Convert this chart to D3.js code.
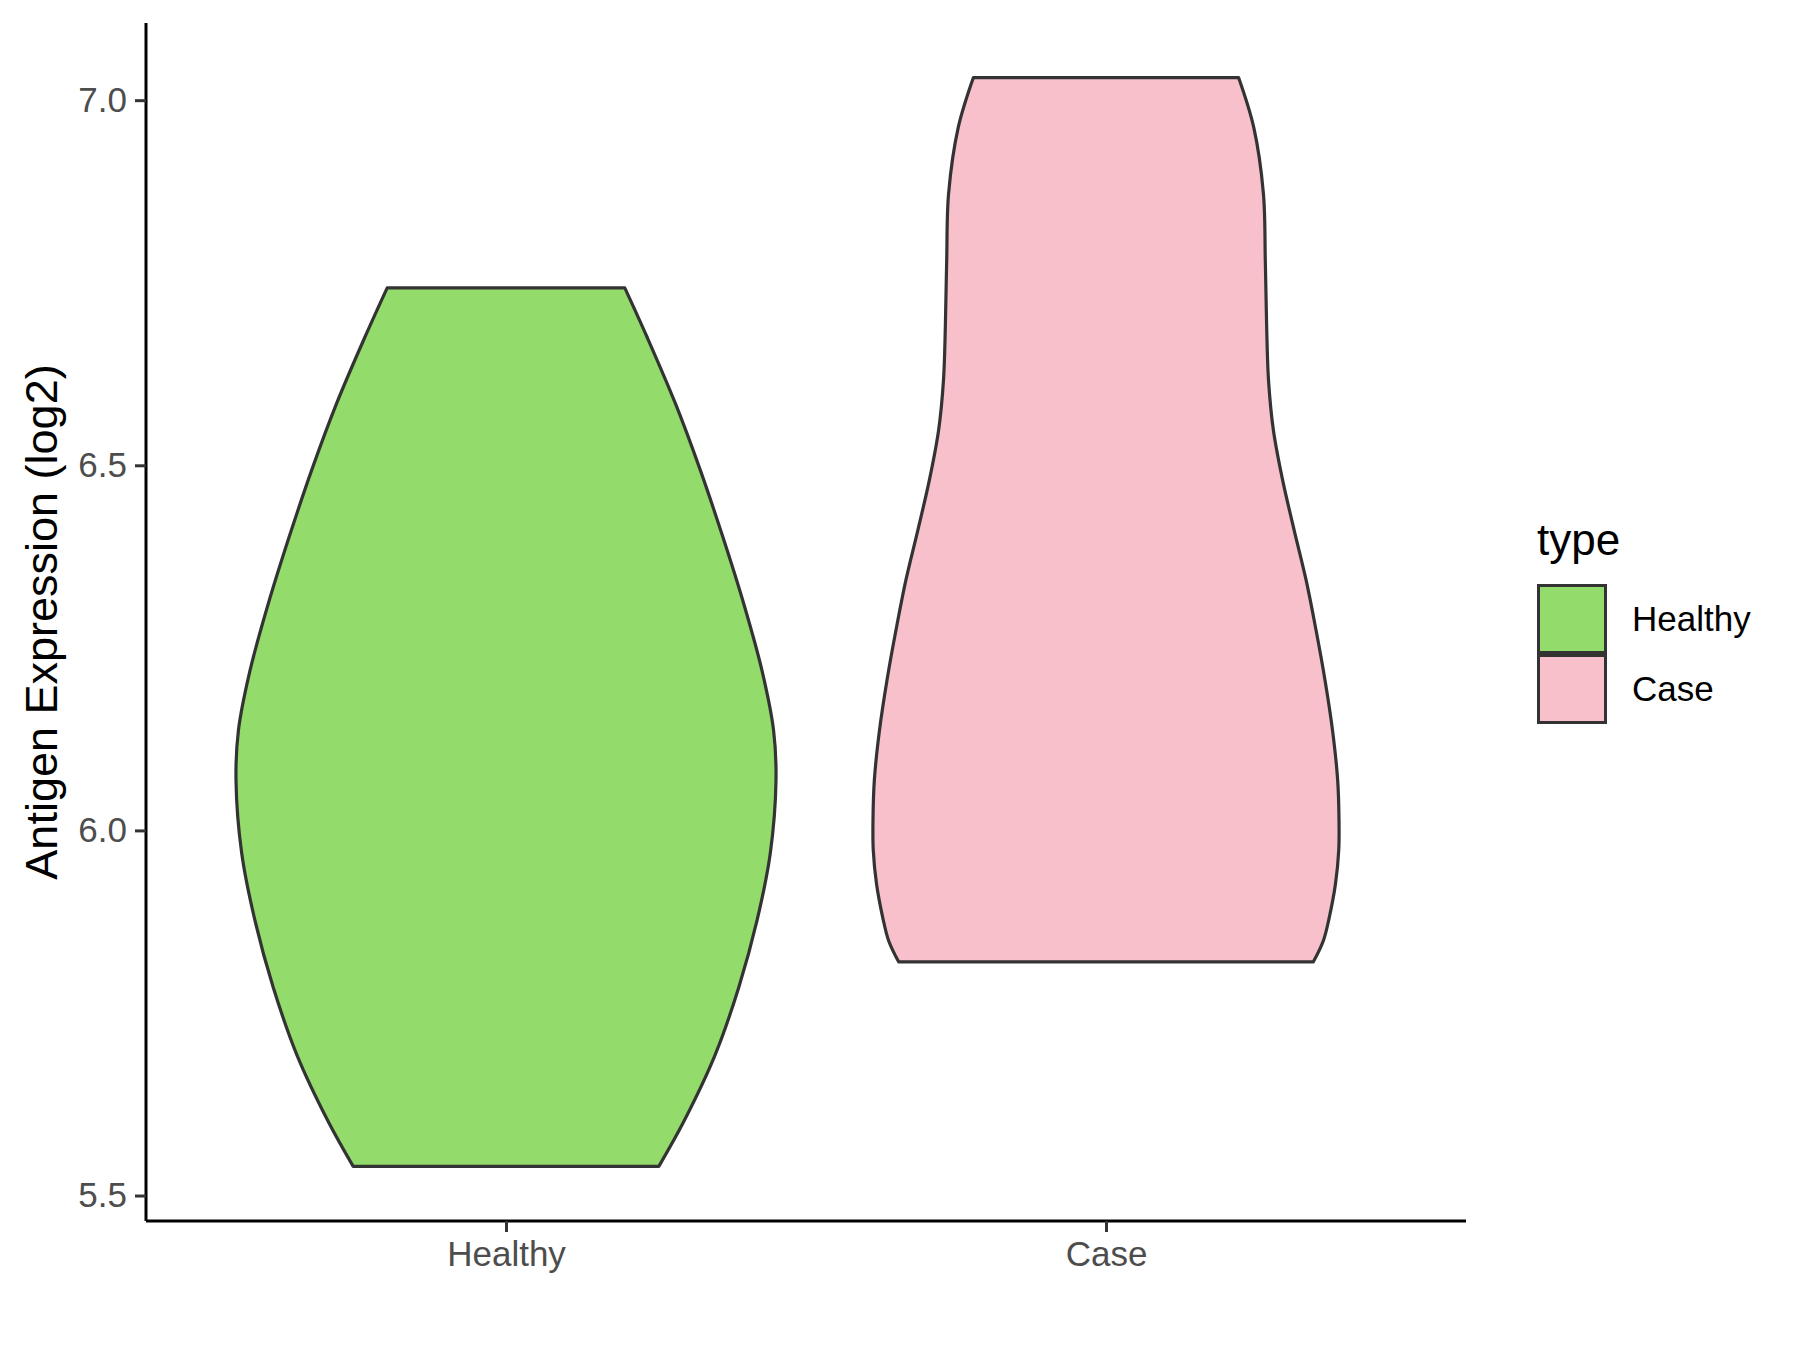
<!DOCTYPE html>
<html>
<head>
<meta charset="utf-8">
<script src="https://cdn.jsdelivr.net/npm/d3@7"></script>
<style>
  body { margin: 0; background: #fff; }
  svg { display: block; font-family: "Liberation Sans", Arial, sans-serif; }
</style>
</head>
<body>
<svg width="1800" height="1350"></svg>
<script>
// categories and colours
var groups = ["Healthy", "Case"];
var fills = ["#93DB6A", "#F8C0CB"];
var yTicks = [5.5, 6.0, 6.5, 7.0];

// violin outlines: value levels and relative density (1 = widest)
var healthyLevels = [6.743, 6.676, 6.585, 6.493, 6.402, 6.311, 6.219, 6.137, 6.069, 5.969, 5.877, 5.785, 5.693, 5.601, 5.540];
var healthyDensity = [0.440, 0.522, 0.627, 0.720, 0.803, 0.880, 0.948, 0.991, 1.000, 0.979, 0.930, 0.862, 0.775, 0.658, 0.566];

var caseLevels = [7.031, 6.963, 6.872, 6.781, 6.690, 6.616, 6.548, 6.480, 6.411, 6.343, 6.274, 6.206, 6.137, 6.069, 6.014, 5.973, 5.927, 5.881, 5.849, 5.820];
var caseDensity = [0.491, 0.547, 0.583, 0.590, 0.595, 0.602, 0.620, 0.654, 0.697, 0.741, 0.778, 0.811, 0.839, 0.858, 0.863, 0.862, 0.850, 0.827, 0.805, 0.768];

var violins = [
    { name: "Healthy", levels: healthyLevels, density: healthyDensity },
    { name: "Case", levels: caseLevels, density: caseDensity }
];

var svg = d3.select("svg"),
    margin = { top: 23, right: 334, bottom: 129, left: 146 },
    width = 1800 - margin.left - margin.right,
    height = 1350 - margin.top - margin.bottom,
    g = svg.append("g").attr("transform", "translate(" + margin.left + "," + margin.top + ")");

var lo = 5.5397, hi = 7.0311, pad = (hi - lo) * 0.05;

var y = d3.scaleLinear()
    .domain([lo - pad, hi + pad])
    .range([height, 0]);

// discrete axis: 0.6 units of padding either side
var x = d3.scalePoint()
    .domain(groups)
    .range([width * 0.6 / 2.2, width * 1.6 / 2.2]);

var unit = width / 2.2;
var halfMax = 0.45 * unit;

var color = d3.scaleOrdinal().domain(groups).range(fills);

violins.forEach(function (v) {
    var pts = v.levels.map(function (l, i) { return { v: l, d: v.density[i] }; });
    var area = d3.area()
        .curve(d3.curveCatmullRom)
        .y(function (d) { return y(d.v); })
        .x0(function (d) { return x(v.name) - d.d * halfMax; })
        .x1(function (d) { return x(v.name) + d.d * halfMax; });
    g.append("path")
        .datum(pts)
        .attr("d", area)
        .attr("fill", color(v.name))
        .attr("stroke", "#333333")
        .attr("stroke-width", 3.2)
        .attr("stroke-linejoin", "round");
});

// axes
var yAxis = g.append("g")
    .call(d3.axisLeft(y).tickValues(yTicks).tickFormat(d3.format(".1f")).tickSize(11).tickPadding(8));
var xAxis = g.append("g")
    .attr("transform", "translate(0," + height + ")")
    .call(d3.axisBottom(x).tickSize(11).tickPadding(9));

[yAxis, xAxis].forEach(function (a) {
    a.select(".domain").attr("stroke", "#000").attr("stroke-width", 3);
    a.selectAll(".tick line").attr("stroke", "#333333").attr("stroke-width", 3);
    a.selectAll(".tick text")
        .attr("fill", "#4D4D4D")
        .style("font-size", "35px")
        .style("font-family", "'Liberation Sans', Arial, sans-serif");
});
yAxis.select(".domain").attr("d", "M0," + height + "V0");
xAxis.select(".domain").attr("d", "M0,0H" + width);

svg.append("text")
    .attr("transform", "translate(41," + (margin.top + height / 2) + ") rotate(-90)")
    .attr("text-anchor", "middle")
    .attr("dominant-baseline", "central")
    .style("font-size", "45px")
    .attr("fill", "#000")
    .text("Antigen Expression (log2)");

// legend
var legend = svg.append("g").attr("transform", "translate(1537,555)");
legend.append("text")
    .attr("x", 0).attr("y", 0)
    .style("font-size", "44px")
    .attr("fill", "#000")
    .text("type");

var keys = legend.selectAll("g.key")
    .data(groups)
    .enter()
    .append("g")
    .attr("class", "key")
    .attr("transform", function (d, i) { return "translate(0," + (29 + i * 70) + ")"; });
keys.append("rect")
    .attr("x", 1.5).attr("y", 1.5)
    .attr("width", 67).attr("height", 67)
    .attr("fill", function (d) { return color(d); })
    .attr("stroke", "#333333")
    .attr("stroke-width", 3);
keys.append("text")
    .attr("x", 95).attr("y", 47)
    .style("font-size", "35px")
    .attr("fill", "#000")
    .text(function (d) { return d; });
</script>
</body>
</html>
